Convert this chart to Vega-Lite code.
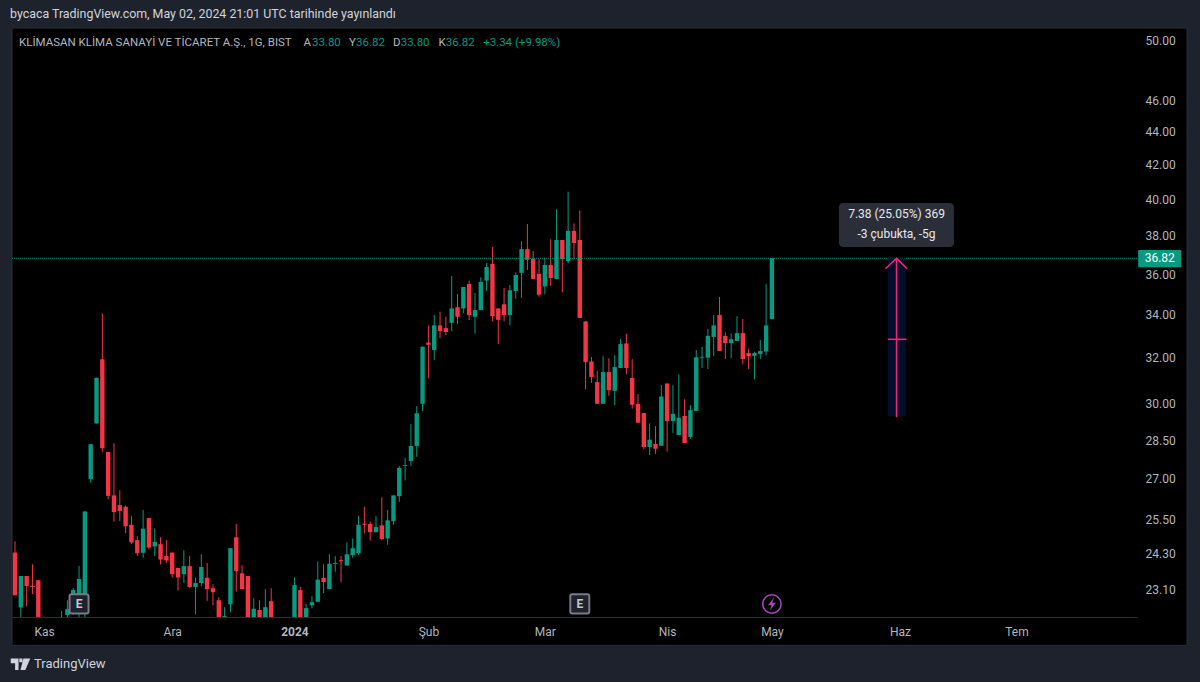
{
"$schema":"https://vega.github.io/schema/vega-lite/v6.json",
"width":1125,"height":589,
"autosize":{"type":"none"},
"padding":{"left":12,"top":28,"right":63,"bottom":65},
"background":"#1E222D",
"title":{"text":"bycaca TradingView.com, May 02, 2024 21:01 UTC tarihinde yayınlandı","anchor":"start","frame":"group","dx":-2,"offset":7,"font":"Roboto","fontSize":12.4,"fontWeight":"normal","color":"#D1D4DC"},
"config":{"view":{"stroke":null},"font":"Roboto","axis":{"grid":false,"title":null}},
"datasets":{
"candles":[
{"i":0,"o":23.90,"h":24.53,"l":23.90,"c":24.53},
{"i":1,"o":24.33,"h":24.72,"l":22.91,"c":22.91},
{"i":2,"o":22.52,"h":23.54,"l":22.0,"c":23.54},
{"i":3,"o":23.54,"h":23.54,"l":22.56,"c":23.21},
{"i":4,"o":23.22,"h":23.93,"l":22.95,"c":23.18},
{"i":5,"o":23.40,"h":23.40,"l":21.7,"c":21.8},
{"i":6,"o":22.1,"h":22.23,"l":21.8,"c":21.9},
{"i":9,"o":21.9,"h":22.41,"l":21.8,"c":22.1},
{"i":10,"o":22.28,"h":22.75,"l":22.1,"c":22.47},
{"i":11,"o":22.44,"h":23.15,"l":22.30,"c":23.08},
{"i":12,"o":22.5,"h":23.87,"l":22.0,"c":23.44},
{"i":13,"o":22.6,"h":25.78,"l":22.0,"c":25.78},
{"i":14,"o":26.98,"h":28.34,"l":26.84,"c":28.34},
{"i":15,"o":29.18,"h":31.12,"l":29.18,"c":31.12},
{"i":16,"o":31.94,"h":34.07,"l":28.04,"c":28.18},
{"i":17,"o":28.03,"h":28.03,"l":26.23,"c":26.35},
{"i":18,"o":26.37,"h":28.38,"l":25.41,"c":25.76},
{"i":19,"o":26.01,"h":26.56,"l":25.44,"c":25.80},
{"i":20,"o":25.95,"h":26.00,"l":25.00,"c":25.25},
{"i":21,"o":25.30,"h":25.61,"l":24.62,"c":24.68},
{"i":22,"o":24.76,"h":24.90,"l":24.22,"c":24.31},
{"i":23,"o":24.32,"h":25.83,"l":24.15,"c":25.16},
{"i":24,"o":25.54,"h":25.54,"l":24.44,"c":24.50},
{"i":25,"o":24.54,"h":25.17,"l":24.21,"c":24.70},
{"i":26,"o":24.62,"h":24.86,"l":23.93,"c":24.09},
{"i":27,"o":24.21,"h":24.76,"l":23.98,"c":24.06},
{"i":28,"o":24.33,"h":24.33,"l":23.49,"c":23.60},
{"i":29,"o":23.81,"h":23.81,"l":23.06,"c":23.49},
{"i":30,"o":23.60,"h":24.41,"l":23.31,"c":23.87},
{"i":31,"o":23.87,"h":24.21,"l":23.15,"c":23.18},
{"i":32,"o":23.18,"h":23.49,"l":22.31,"c":23.31},
{"i":33,"o":23.31,"h":24.27,"l":23.20,"c":23.84},
{"i":34,"o":23.48,"h":23.98,"l":22.73,"c":23.11},
{"i":35,"o":23.14,"h":23.27,"l":22.59,"c":23.01},
{"i":36,"o":22.75,"h":22.85,"l":21.9,"c":22.0},
{"i":37,"o":22.18,"h":22.53,"l":22.1,"c":22.25},
{"i":38,"o":22.62,"h":24.48,"l":22.37,"c":24.48},
{"i":39,"o":24.86,"h":25.33,"l":23.03,"c":23.70},
{"i":40,"o":23.63,"h":23.90,"l":23.11,"c":23.11},
{"i":41,"o":23.54,"h":23.54,"l":21.9,"c":21.9},
{"i":42,"o":22.0,"h":22.82,"l":21.9,"c":22.48},
{"i":43,"o":22.44,"h":22.75,"l":21.9,"c":22.0},
{"i":44,"o":22.0,"h":23.11,"l":21.9,"c":22.53},
{"i":45,"o":22.72,"h":23.14,"l":21.9,"c":22.0},
{"i":49,"o":22.0,"h":23.50,"l":21.9,"c":23.24},
{"i":50,"o":23.08,"h":23.18,"l":21.9,"c":22.0},
{"i":51,"o":22.0,"h":22.63,"l":21.9,"c":22.50},
{"i":52,"o":22.59,"h":22.89,"l":22.49,"c":22.69},
{"i":53,"o":22.70,"h":24.03,"l":22.70,"c":23.42},
{"i":54,"o":23.48,"h":23.93,"l":22.98,"c":23.34},
{"i":55,"o":23.11,"h":24.27,"l":23.11,"c":23.95},
{"i":56,"o":23.94,"h":24.21,"l":23.68,"c":23.97},
{"i":57,"o":24.07,"h":24.21,"l":23.33,"c":24.03},
{"i":58,"o":23.89,"h":24.68,"l":23.89,"c":24.27},
{"i":59,"o":24.24,"h":24.82,"l":24.15,"c":24.48},
{"i":60,"o":24.31,"h":25.62,"l":24.25,"c":25.30},
{"i":61,"o":25.34,"h":25.95,"l":25.00,"c":25.30},
{"i":62,"o":25.33,"h":25.42,"l":24.74,"c":25.04},
{"i":63,"o":25.04,"h":25.61,"l":25.02,"c":25.22},
{"i":64,"o":25.28,"h":26.30,"l":24.76,"c":24.80},
{"i":65,"o":24.82,"h":25.83,"l":24.60,"c":25.46},
{"i":66,"o":25.43,"h":26.37,"l":25.30,"c":26.37},
{"i":67,"o":26.34,"h":27.48,"l":26.13,"c":27.41},
{"i":68,"o":27.49,"h":27.80,"l":26.93,"c":27.52},
{"i":69,"o":27.68,"h":29.16,"l":27.49,"c":28.27},
{"i":70,"o":28.27,"h":29.90,"l":27.84,"c":29.60},
{"i":71,"o":30.00,"h":32.51,"l":29.69,"c":32.51},
{"i":72,"o":32.70,"h":33.50,"l":31.09,"c":32.60},
{"i":73,"o":32.36,"h":33.99,"l":31.90,"c":33.50},
{"i":74,"o":33.50,"h":34.15,"l":32.90,"c":33.23},
{"i":75,"o":33.37,"h":33.91,"l":33.05,"c":33.19},
{"i":76,"o":33.62,"h":35.91,"l":33.23,"c":34.31},
{"i":77,"o":34.37,"h":35.01,"l":33.56,"c":33.91},
{"i":78,"o":34.31,"h":35.36,"l":34.07,"c":35.36},
{"i":79,"o":35.51,"h":35.68,"l":33.75,"c":33.99},
{"i":80,"o":33.91,"h":35.06,"l":33.11,"c":34.23},
{"i":81,"o":34.23,"h":35.85,"l":34.23,"c":35.61},
{"i":82,"o":35.68,"h":36.58,"l":35.16,"c":36.37},
{"i":83,"o":36.53,"h":37.41,"l":33.69,"c":33.94},
{"i":84,"o":34.31,"h":34.31,"l":32.63,"c":33.76},
{"i":85,"o":34.51,"h":35.31,"l":33.69,"c":33.99},
{"i":86,"o":33.99,"h":35.46,"l":33.50,"c":35.20},
{"i":87,"o":35.16,"h":36.10,"l":34.78,"c":35.96},
{"i":88,"o":36.07,"h":37.71,"l":34.82,"c":37.30},
{"i":89,"o":37.30,"h":38.64,"l":36.22,"c":36.74},
{"i":90,"o":36.80,"h":37.20,"l":35.76,"c":35.76},
{"i":91,"o":36.02,"h":36.77,"l":34.88,"c":34.98},
{"i":92,"o":35.39,"h":36.82,"l":35.00,"c":36.48},
{"i":93,"o":36.48,"h":37.82,"l":35.42,"c":35.81},
{"i":94,"o":35.76,"h":39.45,"l":35.76,"c":37.78},
{"i":95,"o":37.78,"h":37.78,"l":35.09,"c":36.78},
{"i":96,"o":36.68,"h":40.44,"l":36.56,"c":38.27},
{"i":97,"o":38.27,"h":38.68,"l":36.82,"c":37.62},
{"i":98,"o":37.78,"h":39.39,"l":33.85,"c":33.85},
{"i":99,"o":33.69,"h":33.69,"l":30.62,"c":31.81},
{"i":100,"o":31.84,"h":32.04,"l":30.90,"c":31.15},
{"i":101,"o":30.93,"h":31.41,"l":30.00,"c":30.00},
{"i":102,"o":30.00,"h":32.08,"l":30.00,"c":31.37},
{"i":103,"o":31.37,"h":31.99,"l":30.34,"c":30.58},
{"i":104,"o":30.55,"h":32.12,"l":29.94,"c":31.59},
{"i":105,"o":31.55,"h":32.86,"l":31.55,"c":32.63},
{"i":106,"o":32.66,"h":33.11,"l":31.27,"c":31.55},
{"i":107,"o":31.11,"h":31.95,"l":29.79,"c":29.96},
{"i":108,"o":29.99,"h":30.41,"l":29.21,"c":29.21},
{"i":109,"o":29.61,"h":29.61,"l":28.14,"c":28.23},
{"i":110,"o":28.23,"h":29.18,"l":27.91,"c":28.52},
{"i":111,"o":28.35,"h":29.07,"l":27.96,"c":28.16},
{"i":112,"o":28.28,"h":30.80,"l":28.28,"c":30.31},
{"i":113,"o":30.87,"h":30.87,"l":28.04,"c":29.28},
{"i":114,"o":29.28,"h":30.80,"l":28.79,"c":29.58},
{"i":115,"o":28.71,"h":31.27,"l":28.71,"c":29.42},
{"i":116,"o":29.49,"h":30.19,"l":28.39,"c":28.39},
{"i":117,"o":28.63,"h":29.94,"l":28.55,"c":29.73},
{"i":118,"o":29.70,"h":32.36,"l":29.70,"c":32.03},
{"i":119,"o":32.01,"h":32.50,"l":31.55,"c":32.05},
{"i":120,"o":32.01,"h":33.33,"l":31.50,"c":33.01},
{"i":121,"o":32.96,"h":33.99,"l":32.09,"c":33.50},
{"i":122,"o":33.99,"h":34.87,"l":32.31,"c":32.31},
{"i":123,"o":33.01,"h":33.17,"l":31.95,"c":32.67},
{"i":124,"o":32.67,"h":33.12,"l":31.99,"c":32.85},
{"i":125,"o":32.77,"h":33.93,"l":32.77,"c":33.14},
{"i":126,"o":33.14,"h":33.80,"l":31.72,"c":31.95},
{"i":127,"o":32.22,"h":32.41,"l":31.50,"c":32.07},
{"i":128,"o":32.09,"h":32.28,"l":31.05,"c":32.22},
{"i":129,"o":32.18,"h":32.82,"l":31.95,"c":32.31},
{"i":130,"o":32.29,"h":35.51,"l":32.11,"c":33.50},
{"i":131,"o":33.80,"h":36.82,"l":33.80,"c":36.82}
],
"arrow":[
{"seg":"shaft","k":1,"i":152.4,"p":36.82},{"seg":"shaft","k":2,"i":152.4,"p":29.44},
{"seg":"head","k":1,"i":150.5,"p":36.28},{"seg":"head","k":2,"i":152.4,"p":36.82},{"seg":"head","k":3,"i":154.2,"p":36.28},
{"seg":"mid","k":1,"i":150.9,"p":32.85},{"seg":"mid","k":2,"i":154.1,"p":32.85}
],
"legendText":[
{"t":"KLİMASAN KLİMA SANAYİ VE TİCARET A.Ş., 1G, BIST","i":1.69,"kind":"label"},
{"t":"A","i":50.55,"kind":"label"},{"t":"33.80","i":52.0,"kind":"value"},
{"t":"Y","i":58.36,"kind":"label"},{"t":"36.82","i":59.56,"kind":"value"},
{"t":"D","i":65.9,"kind":"label"},{"t":"33.80","i":67.24,"kind":"value"},
{"t":"K","i":73.75,"kind":"label"},{"t":"36.82","i":75.0,"kind":"value"},
{"t":"+3.34 (+9.98%)","i":81.4,"kind":"value"}
],
"earnings":[{"i":12,"a":10.37,"b":13.63,"top":22.94,"bot":22.33,"p":22.63,"t":"E"},{"i":98,"a":96.37,"b":99.63,"top":22.94,"bot":22.33,"p":22.63,"t":"E"}]
},
"layer":[
{"data":{"values":[{"a":0.485,"b":202.3,"top":50.92,"bot":21.35}]},
 "mark":{"type":"rect","fill":"#000000","stroke":"#2A2E39","strokeWidth":1,"clip":false},
 "encoding":{
  "x":{"field":"a","type":"quantitative","scale":{"type":"linear","domain":[0.485,193.7],"nice":false,"zero":false,"padding":0},
   "axis":{"zindex":1,"values":[6,28,49,72,92,113,131,153,173],"labelExpr":"{'6':'Kas','28':'Ara','49':'2024','72':'Şub','92':'Mar','113':'Nis','131':'May','153':'Haz','173':'Tem'}[''+datum.value]","ticks":false,"domainColor":"#2A2E39","domainWidth":1,"labelColor":"#B2B5BE","labelFontSize":12,"labelPadding":9,"labelFont":"Roboto","labelFontWeight":{"condition":{"test":"datum.value==49","value":"bold"},"value":"normal"},"labelOverlap":false,"labelFlush":false}},
  "x2":{"field":"b"},
  "y":{"field":"top","type":"quantitative","scale":{"type":"log","domain":[22.22,50.92],"nice":false,"zero":false,"padding":0},
   "axis":{"zindex":1,"orient":"right","values":[50,46,44,42,40,38,36,34,32,30,28.5,27,25.5,24.3,23.1],"format":".2f","ticks":false,"domain":false,"labelColor":"#B2B5BE","labelFontSize":12,"labelPadding":8,"labelFont":"Roboto","labelOverlap":false,"labelFlush":false}},
  "y2":{"field":"bot"}}},
{"data":{"name":"candles"},"mark":{"type":"rule","strokeWidth":1,"clip":true},
 "encoding":{"x":{"field":"i","type":"quantitative"},"y":{"field":"l","type":"quantitative"},"y2":{"field":"h"},
  "color":{"condition":{"test":"datum.c>=datum.o","value":"#089981"},"value":"#F23645"}}},
{"data":{"name":"candles"},"mark":{"type":"bar","width":4.4,"clip":true},
 "encoding":{"x":{"field":"i","type":"quantitative"},"y":{"field":"o","type":"quantitative"},"y2":{"field":"c"},
  "color":{"condition":{"test":"datum.c>=datum.o","value":"#089981"},"value":"#F23645"}}},
{"data":{"values":[{"p":36.82}]},"mark":{"type":"rule","color":"#089981","strokeWidth":1,"strokeDash":[1,1]},
 "encoding":{"y":{"field":"p","type":"quantitative"}}},
{"data":{"values":[{"a":150.9,"b":154.0,"top":36.82,"bot":29.48}]},"mark":{"type":"rect","fill":"#060D2A"},
 "encoding":{"x":{"field":"a","type":"quantitative"},"x2":{"field":"b"},"y":{"field":"top","type":"quantitative"},"y2":{"field":"bot"}}},
{"data":{"name":"arrow"},"mark":{"type":"line","color":"#F7257A","strokeWidth":1.5,"strokeJoin":"miter"},
 "encoding":{"x":{"field":"i","type":"quantitative"},"y":{"field":"p","type":"quantitative"},"detail":{"field":"seg"},"order":{"field":"k"}}},
{"data":{"values":[{"a":142.5,"b":162.26,"top":39.8,"bot":37.41}]},"mark":{"type":"rect","fill":"#2A2E39","cornerRadius":4},
 "encoding":{"x":{"field":"a","type":"quantitative"},"x2":{"field":"b"},"y":{"field":"top","type":"quantitative"},"y2":{"field":"bot"}}},
{"data":{"values":[{"i":152.4,"p":39.19,"t":"7.38 (25.05%) 369"},{"i":152.4,"p":38.1,"t":"-3 çubukta, -5g"}]},"mark":{"type":"text","color":"#E6E8EE","fontSize":12,"font":"Roboto","align":"center","baseline":"middle"},
 "encoding":{"x":{"field":"i","type":"quantitative"},"y":{"field":"p","type":"quantitative"},"text":{"field":"t"}}},
{"data":{"values":[{"a":193.9,"b":201.3,"top":37.25,"bot":36.36}]},"mark":{"type":"rect","fill":"#089981","cornerRadius":1},
 "encoding":{"x":{"field":"a","type":"quantitative"},"x2":{"field":"b"},"y":{"field":"top","type":"quantitative"},"y2":{"field":"bot"}}},
{"data":{"values":[{"i":197.6,"p":36.82,"t":"36.82"}]},"mark":{"type":"text","color":"#FFFFFF","fontSize":12,"font":"Roboto","fontWeight":"normal","align":"center","baseline":"middle"},
 "encoding":{"x":{"field":"i","type":"quantitative"},"y":{"field":"p","type":"quantitative"},"text":{"field":"t"}}},
{"data":{"name":"earnings"},"mark":{"type":"rect","fill":"#1E222D","stroke":"#787B86","strokeWidth":2,"cornerRadius":2},
 "encoding":{"x":{"field":"a","type":"quantitative"},"x2":{"field":"b"},"y":{"field":"top","type":"quantitative"},"y2":{"field":"bot"}}},
{"data":{"name":"earnings"},"mark":{"type":"text","color":"#C4C7CF","fontSize":12,"font":"Roboto","fontWeight":"bold","align":"center","baseline":"middle"},
 "encoding":{"x":{"field":"i","type":"quantitative"},"y":{"field":"p","type":"quantitative"},"text":{"field":"t"}}},
{"data":{"values":[{"i":131,"p":22.63}]},"mark":{"type":"point","shape":"circle","size":340,"stroke":"#AB47BC","strokeWidth":1.5,"filled":false,"opacity":1},
 "encoding":{"x":{"field":"i","type":"quantitative"},"y":{"field":"p","type":"quantitative"}}},
{"data":{"values":[{"i":131,"p":22.63}]},"mark":{"type":"point","shape":"M0.3,-1 L-0.6,0.2 L-0.05,0.2 L-0.3,1 L0.6,-0.2 L0.05,-0.2 Z","size":170,"fill":"#AB47BC","stroke":null,"filled":true,"opacity":1},
 "encoding":{"x":{"field":"i","type":"quantitative"},"y":{"field":"p","type":"quantitative"}}},
{"data":{"name":"legendText"},"mark":{"type":"text","fontSize":11.5,"font":"Roboto","align":"left","baseline":"middle"},
 "encoding":{"x":{"field":"i","type":"quantitative"},"y":{"datum":49.86,"type":"quantitative"},"text":{"field":"t"},
  "color":{"condition":{"test":"datum.kind=='value'","value":"#089981"},"value":"#B2B5BE"}}},
{"data":{"values":[{"i":4.26,"p":20.79,"t":"TradingView"}]},"mark":{"type":"text","color":"#D1D4DC","fontSize":13,"font":"Roboto","align":"left","baseline":"middle"},
 "encoding":{"x":{"field":"i","type":"quantitative"},"y":{"field":"p","type":"quantitative"},"text":{"field":"t"}}},
{"data":{"values":[{"i":1.94,"p":20.79}]},"mark":{"type":"point","shape":"M-1,-0.6 L-0.2,-0.6 L-0.2,0.6 L-0.55,0.6 L-0.55,-0.1 L-1,-0.1 Z M-0.12,-0.6 L0.2,-0.6 L0.2,-0.2 L-0.12,-0.2 Z M0.3,-0.6 L1,-0.6 L0.5,0.6 L0,0.6 Z","size":380,"fill":"#D1D4DC","stroke":null,"filled":true,"opacity":1},
 "encoding":{"x":{"field":"i","type":"quantitative"},"y":{"field":"p","type":"quantitative"}}}
]
}
